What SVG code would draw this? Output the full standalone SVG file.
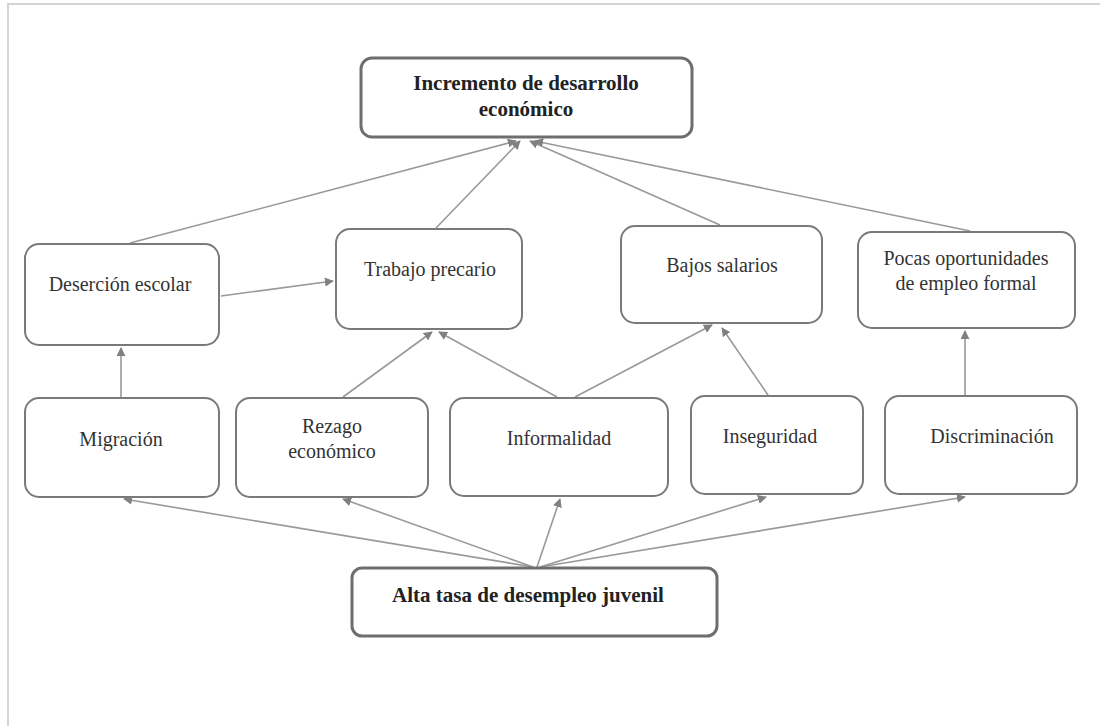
<svg xmlns="http://www.w3.org/2000/svg" width="1101" height="726" viewBox="0 0 1101 726">
<defs>
<marker id="ah" viewBox="0 0 10 10" refX="9" refY="5" markerWidth="9" markerHeight="9" markerUnits="userSpaceOnUse" orient="auto">
<path d="M0,0 L10,5 L0,10 z" fill="#808080"/>
</marker>
<style>
.box{fill:#fff;stroke:#7a7a7a;stroke-width:2}
.bbox{fill:#fff;stroke:#6e6e6e;stroke-width:3}
.t{font-family:"Liberation Serif","Times New Roman",serif;font-size:20px;fill:#333;text-anchor:middle}
.b{font-weight:bold;fill:#222;font-size:21px}
.c{stroke:#999;stroke-width:1.6;fill:none;marker-end:url(#ah)}
</style>
</defs>
<rect x="0" y="0" width="1101" height="726" fill="#fff"/>
<path d="M8,726 L8,4 L1100,4" fill="none" stroke="#d4d4d4" stroke-width="2"/>
<g id="connectors">
<line class="c" x1="130" y1="243" x2="516" y2="141"/>
<line class="c" x1="436" y1="228" x2="520" y2="141"/>
<line class="c" x1="720" y1="225" x2="530" y2="141"/>
<line class="c" x1="970" y1="231" x2="535" y2="141"/>
<line class="c" x1="221" y1="296" x2="333" y2="281"/>
<line class="c" x1="121" y1="397" x2="121" y2="348"/>
<line class="c" x1="343" y1="397" x2="432" y2="332"/>
<line class="c" x1="557" y1="397" x2="439" y2="332"/>
<line class="c" x1="575" y1="397" x2="712" y2="325"/>
<line class="c" x1="768" y1="395" x2="722" y2="328"/>
<line class="c" x1="965" y1="395" x2="965" y2="331"/>
<line class="c" x1="533" y1="567" x2="124" y2="499"/>
<line class="c" x1="533" y1="567" x2="343" y2="499"/>
<line class="c" x1="537" y1="567" x2="560" y2="499"/>
<line class="c" x1="540" y1="567" x2="766" y2="497"/>
<line class="c" x1="540" y1="567" x2="965" y2="497"/>
</g>
<g id="n_incremento"><rect class="bbox" x="361" y="58" width="331" height="79" rx="11"/><text class="t b" x="526" y="90">Incremento de desarrollo</text><text class="t b" x="526" y="116">económico</text></g>
<g id="n_desercion"><rect class="box" x="25" y="244" width="194" height="101" rx="14"/><text class="t" x="120" y="291">Deserción escolar</text></g>
<g id="n_trabajo"><rect class="box" x="336" y="229" width="186" height="100" rx="14"/><text class="t" x="430" y="276">Trabajo precario</text></g>
<g id="n_bajos"><rect class="box" x="621" y="226" width="201" height="97" rx="14"/><text class="t" x="722" y="272">Bajos salarios</text></g>
<g id="n_pocas"><rect class="box" x="858" y="232" width="217" height="96" rx="14"/><text class="t" x="966" y="265">Pocas oportunidades</text><text class="t" x="966" y="290">de empleo formal</text></g>
<g id="n_migracion"><rect class="box" x="25" y="398" width="194" height="99" rx="14"/><text class="t" x="121" y="446">Migración</text></g>
<g id="n_rezago"><rect class="box" x="236" y="398" width="192" height="99" rx="14"/><text class="t" x="332" y="433">Rezago</text><text class="t" x="332" y="458">económico</text></g>
<g id="n_informalidad"><rect class="box" x="450" y="398" width="218" height="98" rx="14"/><text class="t" x="559" y="445">Informalidad</text></g>
<g id="n_inseguridad"><rect class="box" x="691" y="396" width="172" height="98" rx="14"/><text class="t" x="770" y="443">Inseguridad</text></g>
<g id="n_discriminacion"><rect class="box" x="885" y="396" width="192" height="98" rx="14"/><text class="t" x="992" y="443">Discriminación</text></g>
<g id="n_alta"><rect class="bbox" x="352" y="568" width="365" height="68" rx="10"/><text class="t b" x="528" y="602">Alta tasa de desempleo juvenil</text></g>
</svg>
